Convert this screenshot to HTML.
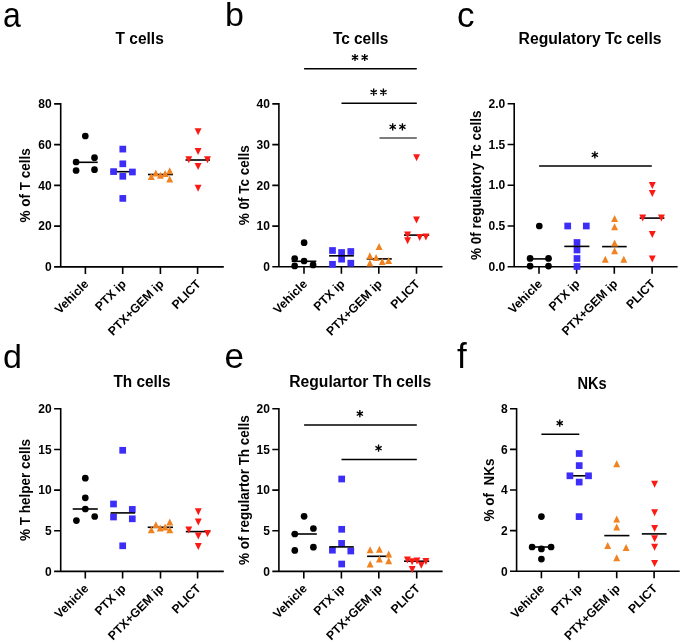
<!DOCTYPE html><html><head><meta charset="utf-8"><title>Figure</title><style>html,body{margin:0;padding:0;background:#fff;overflow:hidden}svg{display:block;filter:blur(0.4px)}text{font-family:"Liberation Sans",sans-serif}</style></head><body>
<svg width="685" height="644" viewBox="0 0 685 644">
<rect width="685" height="644" fill="#fff"/>
<g><path d="M54.1 103.9H60.7V266.9H223.8M54.1 266.9H60.7M54.1 226.15H60.7M54.1 185.4H60.7M54.1 144.65H60.7M85.4 266.9V273.9M122.7 266.9V273.9M160.4 266.9V273.9M197.6 266.9V273.9" fill="none" stroke="#000" stroke-width="1.6" stroke-linecap="butt" stroke-linejoin="miter"/><text x="51.7" y="271.1" font-size="12" font-weight="bold" text-anchor="end">0</text><text x="51.7" y="230.35" font-size="12" font-weight="bold" text-anchor="end">20</text><text x="51.7" y="189.6" font-size="12" font-weight="bold" text-anchor="end">40</text><text x="51.7" y="148.85" font-size="12" font-weight="bold" text-anchor="end">60</text><text x="51.7" y="108.1" font-size="12" font-weight="bold" text-anchor="end">80</text><text transform="translate(29.7 185.4) rotate(-90) scale(1 1.085)" font-size="13.5" font-weight="bold" text-anchor="middle" xml:space="preserve">% of T cells</text><text transform="translate(89.4 284.8) rotate(-45)" font-size="12.2" font-weight="bold" text-anchor="end">Vehicle</text><text transform="translate(126.7 284.8) rotate(-45)" font-size="12.2" font-weight="bold" text-anchor="end">PTX ip</text><text transform="translate(164.4 284.8) rotate(-45)" font-size="12.2" font-weight="bold" text-anchor="end">PTX+GEM ip</text><text transform="translate(201.6 284.8) rotate(-45)" font-size="12.2" font-weight="bold" text-anchor="end">PLICT</text><text x="115.6" y="43.8" font-size="16" font-weight="bold" textLength="48.2" lengthAdjust="spacingAndGlyphs">T cells</text><text x="2.96" y="26.6" font-size="35" textLength="17.8" lengthAdjust="spacingAndGlyphs">a</text><circle cx="85.3" cy="136" r="3.35" fill="#000"/><circle cx="94.5" cy="157.7" r="3.35" fill="#000"/><circle cx="76.1" cy="162" r="3.35" fill="#000"/><circle cx="76.1" cy="170.5" r="3.35" fill="#000"/><circle cx="94.5" cy="169.7" r="3.35" fill="#000"/><path d="M73.1 162.3H97.7" stroke="#000" stroke-width="1.6"/><path d="M110.4 171.7H135.1" stroke="#000" stroke-width="1.6"/><rect x="119.45" y="145.75" width="6.7" height="6.7" fill="#3d2df8"/><rect x="119.45" y="160.45" width="6.7" height="6.7" fill="#3d2df8"/><rect x="110.25" y="168.25" width="6.7" height="6.7" fill="#3d2df8"/><rect x="129.05" y="168.65" width="6.7" height="6.7" fill="#3d2df8"/><rect x="119.45" y="172.95" width="6.7" height="6.7" fill="#3d2df8"/><rect x="119.45" y="195.05" width="6.7" height="6.7" fill="#3d2df8"/><path d="M148 174.5H173" stroke="#000" stroke-width="1.6"/><path d="M151.3 173L154.75 180H147.85Z" fill="#f0821f"/><path d="M155.8 169.5L159.25 176.5H152.35Z" fill="#f0821f"/><path d="M160.4 171.8L163.85 178.8H156.95Z" fill="#f0821f"/><path d="M165.1 170.1L168.55 177.1H161.65Z" fill="#f0821f"/><path d="M169.7 167.3L173.15 174.3H166.25Z" fill="#f0821f"/><path d="M169.7 175.5L173.15 182.5H166.25Z" fill="#f0821f"/><path d="M185.5 160H210" stroke="#000" stroke-width="1.6"/><path d="M198.1 135.3L201.55 128.3H194.65Z" fill="#fc1a14"/><path d="M198.1 155.1L201.55 148.1H194.65Z" fill="#fc1a14"/><path d="M188.8 163.2L192.25 156.2H185.35Z" fill="#fc1a14"/><path d="M207.5 163.2L210.95 156.2H204.05Z" fill="#fc1a14"/><path d="M198.1 170.1L201.55 163.1H194.65Z" fill="#fc1a14"/><path d="M198.1 191.8L201.55 184.8H194.65Z" fill="#fc1a14"/></g>
<g><path d="M272.3 103.9H278.9V266.8H442.5M272.3 266.8H278.9M272.3 226.08H278.9M272.3 185.35H278.9M272.3 144.62H278.9M304 266.8V273.8M341.4 266.8V273.8M378.8 266.8V273.8M416.5 266.8V273.8" fill="none" stroke="#000" stroke-width="1.6" stroke-linecap="butt" stroke-linejoin="miter"/><text x="269.9" y="271" font-size="12" font-weight="bold" text-anchor="end">0</text><text x="269.9" y="230.28" font-size="12" font-weight="bold" text-anchor="end">10</text><text x="269.9" y="189.55" font-size="12" font-weight="bold" text-anchor="end">20</text><text x="269.9" y="148.82" font-size="12" font-weight="bold" text-anchor="end">30</text><text x="269.9" y="108.1" font-size="12" font-weight="bold" text-anchor="end">40</text><text transform="translate(248.6 185.35) rotate(-90) scale(1 1.085)" font-size="13.5" font-weight="bold" text-anchor="middle" xml:space="preserve">% 0f Tc cells</text><text transform="translate(308 284.7) rotate(-45)" font-size="12.2" font-weight="bold" text-anchor="end">Vehicle</text><text transform="translate(345.4 284.7) rotate(-45)" font-size="12.2" font-weight="bold" text-anchor="end">PTX ip</text><text transform="translate(382.8 284.7) rotate(-45)" font-size="12.2" font-weight="bold" text-anchor="end">PTX+GEM ip</text><text transform="translate(420.5 284.7) rotate(-45)" font-size="12.2" font-weight="bold" text-anchor="end">PLICT</text><text x="332.9" y="44.1" font-size="16" font-weight="bold" textLength="55.4" lengthAdjust="spacingAndGlyphs">Tc cells</text><text x="225" y="26.1" font-size="34">b</text><circle cx="304.1" cy="242.7" r="3.35" fill="#000"/><circle cx="294.7" cy="258.5" r="3.35" fill="#000"/><circle cx="304.1" cy="261" r="3.35" fill="#000"/><circle cx="294.7" cy="265.9" r="3.35" fill="#000"/><circle cx="313.1" cy="264.9" r="3.35" fill="#000"/><path d="M291.7 261.3H316.3" stroke="#000" stroke-width="1.6"/><rect x="329.15" y="247.15" width="6.7" height="6.7" fill="#3d2df8"/><rect x="338.25" y="249.15" width="6.7" height="6.7" fill="#3d2df8"/><rect x="338.25" y="255.85" width="6.7" height="6.7" fill="#3d2df8"/><rect x="347.45" y="248.15" width="6.7" height="6.7" fill="#3d2df8"/><rect x="329.15" y="260.95" width="6.7" height="6.7" fill="#3d2df8"/><rect x="347.45" y="259.85" width="6.7" height="6.7" fill="#3d2df8"/><path d="M329.1 255.8H353.9" stroke="#000" stroke-width="1.6"/><path d="M366.7 258.9H391.8" stroke="#000" stroke-width="1.6"/><path d="M379.1 242.9L382.55 249.9H375.65Z" fill="#f0821f"/><path d="M369.9 252.2L373.35 259.2H366.45Z" fill="#f0821f"/><path d="M376.1 254L379.55 261H372.65Z" fill="#f0821f"/><path d="M369.9 259.4L373.35 266.4H366.45Z" fill="#f0821f"/><path d="M382.2 258.1L385.65 265.1H378.75Z" fill="#f0821f"/><path d="M388.6 257L392.05 264H385.15Z" fill="#f0821f"/><path d="M404 235.1H429.2" stroke="#000" stroke-width="1.6"/><path d="M416.6 161.3L420.05 154.3H413.15Z" fill="#fc1a14"/><path d="M416.5 223.4L419.95 216.4H413.05Z" fill="#fc1a14"/><path d="M407.6 238.4L411.05 231.4H404.15Z" fill="#fc1a14"/><path d="M407.6 244.3L411.05 237.3H404.15Z" fill="#fc1a14"/><path d="M419.7 241.1L423.15 234.1H416.25Z" fill="#fc1a14"/><path d="M425.9 240.6L429.35 233.6H422.45Z" fill="#fc1a14"/><path d="M304.1 68.7H416.8" stroke="#000" stroke-width="1.5"/><path d="M355 53.9L355 61.1M351.88 55.7L358.12 59.3M358.12 55.7L351.88 59.3M364.7 53.9L364.7 61.1M361.58 55.7L367.82 59.3M367.82 55.7L361.58 59.3" stroke="#000" stroke-width="1.35" stroke-linecap="butt"/><path d="M341.5 103.3H416.8" stroke="#000" stroke-width="1.5"/><path d="M373.7 88.5L373.7 95.7M370.58 90.3L376.82 93.9M376.82 90.3L370.58 93.9M383.4 88.5L383.4 95.7M380.28 90.3L386.52 93.9M386.52 90.3L380.28 93.9" stroke="#000" stroke-width="1.35" stroke-linecap="butt"/><path d="M379.5 138H416.8" stroke="#505050" stroke-width="1.5"/><path d="M392.7 123.2L392.7 130.4M389.58 125L395.82 128.6M395.82 125L389.58 128.6M402.4 123.2L402.4 130.4M399.28 125L405.52 128.6M405.52 125L399.28 128.6" stroke="#000" stroke-width="1.35" stroke-linecap="butt"/></g>
<g><path d="M507.6 103.8H514.2V266.7H677.6M507.6 266.7H514.2M507.6 225.97H514.2M507.6 185.25H514.2M507.6 144.53H514.2M539 266.7V273.7M576.6 266.7V273.7M614.3 266.7V273.7M652.1 266.7V273.7" fill="none" stroke="#000" stroke-width="1.6" stroke-linecap="butt" stroke-linejoin="miter"/><text x="505.2" y="270.9" font-size="12" font-weight="bold" text-anchor="end">0.0</text><text x="505.2" y="230.17" font-size="12" font-weight="bold" text-anchor="end">0.5</text><text x="505.2" y="189.45" font-size="12" font-weight="bold" text-anchor="end">1.0</text><text x="505.2" y="148.72" font-size="12" font-weight="bold" text-anchor="end">1.5</text><text x="505.2" y="108" font-size="12" font-weight="bold" text-anchor="end">2.0</text><text transform="translate(480.5 185.25) rotate(-90) scale(1 1.085)" font-size="13.5" font-weight="bold" text-anchor="middle" xml:space="preserve">% 0f regulatory Tc cells</text><text transform="translate(543 284.6) rotate(-45)" font-size="12.2" font-weight="bold" text-anchor="end">Vehicle</text><text transform="translate(580.6 284.6) rotate(-45)" font-size="12.2" font-weight="bold" text-anchor="end">PTX ip</text><text transform="translate(618.3 284.6) rotate(-45)" font-size="12.2" font-weight="bold" text-anchor="end">PTX+GEM ip</text><text transform="translate(656.1 284.6) rotate(-45)" font-size="12.2" font-weight="bold" text-anchor="end">PLICT</text><text x="518.6" y="43.7" font-size="16" font-weight="bold" textLength="142.9" lengthAdjust="spacingAndGlyphs">Regulatory Tc cells</text><text x="457" y="26.8" font-size="35">c</text><circle cx="539.3" cy="226" r="3.35" fill="#000"/><circle cx="530.1" cy="258.4" r="3.35" fill="#000"/><circle cx="548.5" cy="258.4" r="3.35" fill="#000"/><circle cx="530.1" cy="266.1" r="3.35" fill="#000"/><circle cx="548.5" cy="266.1" r="3.35" fill="#000"/><path d="M527 258.9H551.5" stroke="#000" stroke-width="1.6"/><rect x="564.35" y="222.65" width="6.7" height="6.7" fill="#3d2df8"/><rect x="582.95" y="222.65" width="6.7" height="6.7" fill="#3d2df8"/><rect x="573.65" y="239.15" width="6.7" height="6.7" fill="#3d2df8"/><rect x="573.65" y="246.65" width="6.7" height="6.7" fill="#3d2df8"/><rect x="573.65" y="255.15" width="6.7" height="6.7" fill="#3d2df8"/><rect x="573.65" y="263.15" width="6.7" height="6.7" fill="#3d2df8"/><path d="M564.3 246.4H589.4" stroke="#000" stroke-width="1.6"/><path d="M602.1 246.6H626.7" stroke="#000" stroke-width="1.6"/><path d="M614.6 215.1L618.05 222.1H611.15Z" fill="#f0821f"/><path d="M614.6 223.2L618.05 230.2H611.15Z" fill="#f0821f"/><path d="M614.6 239.4L618.05 246.4H611.15Z" fill="#f0821f"/><path d="M614.6 247.2L618.05 254.2H611.15Z" fill="#f0821f"/><path d="M605.3 255.7L608.75 262.7H601.85Z" fill="#f0821f"/><path d="M623.8 255.7L627.25 262.7H620.35Z" fill="#f0821f"/><path d="M639.7 218.1H664.4" stroke="#000" stroke-width="1.6"/><path d="M652.3 189.1L655.75 182.1H648.85Z" fill="#fc1a14"/><path d="M652.3 197.1L655.75 190.1H648.85Z" fill="#fc1a14"/><path d="M642.7 221.6L646.15 214.6H639.25Z" fill="#fc1a14"/><path d="M661.4 221.6L664.85 214.6H657.95Z" fill="#fc1a14"/><path d="M652.3 237.9L655.75 230.9H648.85Z" fill="#fc1a14"/><path d="M652.3 262.5L655.75 255.5H648.85Z" fill="#fc1a14"/><path d="M539.1 166H651.8" stroke="#000" stroke-width="1.5"/><path d="M594.85 151.2L594.85 158.4M591.73 153L597.97 156.6M597.97 153L591.73 156.6" stroke="#000" stroke-width="1.35" stroke-linecap="butt"/></g>
<g><path d="M54.1 408.8H60.7V571.4H223.8M54.1 571.4H60.7M54.1 530.75H60.7M54.1 490.1H60.7M54.1 449.45H60.7M85.3 571.4V578.4M122.6 571.4V578.4M160.5 571.4V578.4M197.6 571.4V578.4" fill="none" stroke="#000" stroke-width="1.6" stroke-linecap="butt" stroke-linejoin="miter"/><text x="51.7" y="575.6" font-size="12" font-weight="bold" text-anchor="end">0</text><text x="51.7" y="534.95" font-size="12" font-weight="bold" text-anchor="end">5</text><text x="51.7" y="494.3" font-size="12" font-weight="bold" text-anchor="end">10</text><text x="51.7" y="453.65" font-size="12" font-weight="bold" text-anchor="end">15</text><text x="51.7" y="413" font-size="12" font-weight="bold" text-anchor="end">20</text><text transform="translate(29.7 490.1) rotate(-90) scale(1 1.085)" font-size="13.5" font-weight="bold" text-anchor="middle" xml:space="preserve">% T helper cells</text><text transform="translate(89.3 589.3) rotate(-45)" font-size="12.2" font-weight="bold" text-anchor="end">Vehicle</text><text transform="translate(126.6 589.3) rotate(-45)" font-size="12.2" font-weight="bold" text-anchor="end">PTX ip</text><text transform="translate(164.5 589.3) rotate(-45)" font-size="12.2" font-weight="bold" text-anchor="end">PTX+GEM ip</text><text transform="translate(201.6 589.3) rotate(-45)" font-size="12.2" font-weight="bold" text-anchor="end">PLICT</text><text x="113.4" y="387" font-size="16" font-weight="bold" textLength="57.2" lengthAdjust="spacingAndGlyphs">Th cells</text><text x="3" y="367.8" font-size="34">d</text><circle cx="85.3" cy="478.2" r="3.35" fill="#000"/><circle cx="85.3" cy="497.8" r="3.35" fill="#000"/><circle cx="85.3" cy="509" r="3.35" fill="#000"/><circle cx="76.4" cy="520.6" r="3.35" fill="#000"/><circle cx="94.7" cy="516.5" r="3.35" fill="#000"/><path d="M72.7 509H97.8" stroke="#000" stroke-width="1.6"/><rect x="119.35" y="446.95" width="6.7" height="6.7" fill="#3d2df8"/><rect x="110.15" y="500.65" width="6.7" height="6.7" fill="#3d2df8"/><rect x="110.15" y="513.65" width="6.7" height="6.7" fill="#3d2df8"/><rect x="128.95" y="506.05" width="6.7" height="6.7" fill="#3d2df8"/><rect x="128.95" y="515.45" width="6.7" height="6.7" fill="#3d2df8"/><rect x="119.35" y="542.45" width="6.7" height="6.7" fill="#3d2df8"/><path d="M110.6 512.9H135.1" stroke="#000" stroke-width="1.6"/><path d="M147.7 527.3H173" stroke="#000" stroke-width="1.6"/><path d="M151.3 526.2L154.75 533.2H147.85Z" fill="#f0821f"/><path d="M155.9 521.3L159.35 528.3H152.45Z" fill="#f0821f"/><path d="M160.2 524.5L163.65 531.5H156.75Z" fill="#f0821f"/><path d="M165.1 523.5L168.55 530.5H161.65Z" fill="#f0821f"/><path d="M169.8 518.6L173.25 525.6H166.35Z" fill="#f0821f"/><path d="M169.8 526.2L173.25 533.2H166.35Z" fill="#f0821f"/><path d="M185.8 531.6H210.3" stroke="#000" stroke-width="1.6"/><path d="M198.3 515.3L201.75 508.3H194.85Z" fill="#fc1a14"/><path d="M198.3 525.6L201.75 518.6H194.85Z" fill="#fc1a14"/><path d="M188.8 533.4L192.25 526.4H185.35Z" fill="#fc1a14"/><path d="M207.5 537L210.95 530H204.05Z" fill="#fc1a14"/><path d="M198.3 539.5L201.75 532.5H194.85Z" fill="#fc1a14"/><path d="M198.3 550.1L201.75 543.1H194.85Z" fill="#fc1a14"/></g>
<g><path d="M272.3 408.8H278.9V571.4H442.6M272.3 571.4H278.9M272.3 530.75H278.9M272.3 490.1H278.9M272.3 449.45H278.9M303.8 571.4V578.4M341.4 571.4V578.4M378.8 571.4V578.4M416.7 571.4V578.4" fill="none" stroke="#000" stroke-width="1.6" stroke-linecap="butt" stroke-linejoin="miter"/><text x="269.9" y="575.6" font-size="12" font-weight="bold" text-anchor="end">0</text><text x="269.9" y="534.95" font-size="12" font-weight="bold" text-anchor="end">5</text><text x="269.9" y="494.3" font-size="12" font-weight="bold" text-anchor="end">10</text><text x="269.9" y="453.65" font-size="12" font-weight="bold" text-anchor="end">15</text><text x="269.9" y="413" font-size="12" font-weight="bold" text-anchor="end">20</text><text transform="translate(249.3 490.1) rotate(-90) scale(1 1.085)" font-size="13.5" font-weight="bold" text-anchor="middle" xml:space="preserve">% of regulartor Th cells</text><text transform="translate(307.8 589.3) rotate(-45)" font-size="12.2" font-weight="bold" text-anchor="end">Vehicle</text><text transform="translate(345.4 589.3) rotate(-45)" font-size="12.2" font-weight="bold" text-anchor="end">PTX ip</text><text transform="translate(382.8 589.3) rotate(-45)" font-size="12.2" font-weight="bold" text-anchor="end">PTX+GEM ip</text><text transform="translate(420.7 589.3) rotate(-45)" font-size="12.2" font-weight="bold" text-anchor="end">PLICT</text><text x="289.2" y="386.6" font-size="16" font-weight="bold" textLength="142" lengthAdjust="spacingAndGlyphs">Regulartor Th cells</text><text x="224.5" y="367.5" font-size="35">e</text><circle cx="304.1" cy="516.3" r="3.35" fill="#000"/><circle cx="313.4" cy="528.5" r="3.35" fill="#000"/><circle cx="294.8" cy="534" r="3.35" fill="#000"/><circle cx="294.8" cy="550.4" r="3.35" fill="#000"/><circle cx="313.4" cy="547.2" r="3.35" fill="#000"/><path d="M291.6 534H316.8" stroke="#000" stroke-width="1.6"/><rect x="338.35" y="475.65" width="6.7" height="6.7" fill="#3d2df8"/><rect x="338.35" y="525.95" width="6.7" height="6.7" fill="#3d2df8"/><rect x="338.25" y="540.05" width="6.7" height="6.7" fill="#3d2df8"/><rect x="329.05" y="546.85" width="6.7" height="6.7" fill="#3d2df8"/><rect x="347.45" y="547.65" width="6.7" height="6.7" fill="#3d2df8"/><rect x="338.35" y="560.65" width="6.7" height="6.7" fill="#3d2df8"/><path d="M329.3 546.9H353.8" stroke="#000" stroke-width="1.6"/><path d="M367.1 556.3H391" stroke="#000" stroke-width="1.6"/><path d="M370.1 546.2L373.55 553.2H366.65Z" fill="#f0821f"/><path d="M379.4 545.7L382.85 552.7H375.95Z" fill="#f0821f"/><path d="M388.7 550.4L392.15 557.4H385.25Z" fill="#f0821f"/><path d="M379.4 555.5L382.85 562.5H375.95Z" fill="#f0821f"/><path d="M388.7 557.2L392.15 564.2H385.25Z" fill="#f0821f"/><path d="M370.1 560.4L373.55 567.4H366.65Z" fill="#f0821f"/><path d="M404 561.2H429.2" stroke="#000" stroke-width="1.6"/><path d="M407.4 563.4L410.85 556.4H403.95Z" fill="#fc1a14"/><path d="M412.1 565.3L415.55 558.3H408.65Z" fill="#fc1a14"/><path d="M417 564.4L420.45 557.4H413.55Z" fill="#fc1a14"/><path d="M425.9 564.9L429.35 557.9H422.45Z" fill="#fc1a14"/><path d="M421.3 568.8L424.75 561.8H417.85Z" fill="#fc1a14"/><path d="M412.2 572.9L415.65 565.9H408.75Z" fill="#fc1a14"/><path d="M304.1 424.9H416.8" stroke="#000" stroke-width="1.5"/><path d="M359.85 410.1L359.85 417.3M356.73 411.9L362.97 415.5M362.97 411.9L356.73 415.5" stroke="#000" stroke-width="1.35" stroke-linecap="butt"/><path d="M341.5 459.4H416.8" stroke="#000" stroke-width="1.5"/><path d="M378.55 444.6L378.55 451.8M375.43 446.4L381.67 450M381.67 446.4L375.43 450" stroke="#000" stroke-width="1.35" stroke-linecap="butt"/></g>
<g><path d="M510 408.7H516.6V571.3H679.7M510 571.3H516.6M510 530.65H516.6M510 490H516.6M510 449.35H516.6M541.4 571.3V578.3M578.7 571.3V578.3M616.7 571.3V578.3M654.1 571.3V578.3" fill="none" stroke="#000" stroke-width="1.6" stroke-linecap="butt" stroke-linejoin="miter"/><text x="507.6" y="575.5" font-size="12" font-weight="bold" text-anchor="end">0</text><text x="507.6" y="534.85" font-size="12" font-weight="bold" text-anchor="end">2</text><text x="507.6" y="494.2" font-size="12" font-weight="bold" text-anchor="end">4</text><text x="507.6" y="453.55" font-size="12" font-weight="bold" text-anchor="end">6</text><text x="507.6" y="412.9" font-size="12" font-weight="bold" text-anchor="end">8</text><text transform="translate(493.7 490) rotate(-90) scale(1 1.085)" font-size="13.5" font-weight="bold" text-anchor="middle" xml:space="preserve">% of  NKs</text><text transform="translate(545.4 589.2) rotate(-45)" font-size="12.2" font-weight="bold" text-anchor="end">Vehicle</text><text transform="translate(582.7 589.2) rotate(-45)" font-size="12.2" font-weight="bold" text-anchor="end">PTX ip</text><text transform="translate(620.7 589.2) rotate(-45)" font-size="12.2" font-weight="bold" text-anchor="end">PTX+GEM ip</text><text transform="translate(658.1 589.2) rotate(-45)" font-size="12.2" font-weight="bold" text-anchor="end">PLICT</text><text x="577.4" y="388.7" font-size="16" font-weight="bold" textLength="29.2" lengthAdjust="spacingAndGlyphs">NKs</text><text x="456.9" y="368.4" font-size="35">f</text><circle cx="541.4" cy="516.6" r="3.35" fill="#000"/><circle cx="532.1" cy="547" r="3.35" fill="#000"/><circle cx="551.1" cy="547" r="3.35" fill="#000"/><circle cx="541.4" cy="548.9" r="3.35" fill="#000"/><circle cx="541.4" cy="559.1" r="3.35" fill="#000"/><path d="M529 547H553.8" stroke="#000" stroke-width="1.6"/><path d="M567 475.8H591.3" stroke="#000" stroke-width="1.6"/><rect x="575.85" y="450.15" width="6.7" height="6.7" fill="#3d2df8"/><rect x="575.85" y="462.25" width="6.7" height="6.7" fill="#3d2df8"/><rect x="566.55" y="472.45" width="6.7" height="6.7" fill="#3d2df8"/><rect x="585.15" y="472.45" width="6.7" height="6.7" fill="#3d2df8"/><rect x="575.85" y="478.75" width="6.7" height="6.7" fill="#3d2df8"/><rect x="575.75" y="513.25" width="6.7" height="6.7" fill="#3d2df8"/><path d="M604.3 535.6H629.4" stroke="#000" stroke-width="1.6"/><path d="M616.7 460.3L620.15 467.3H613.25Z" fill="#f0821f"/><path d="M616.7 515.4L620.15 522.4H613.25Z" fill="#f0821f"/><path d="M616.7 523.6L620.15 530.6H613.25Z" fill="#f0821f"/><path d="M607.7 541.9L611.15 548.9H604.25Z" fill="#f0821f"/><path d="M626.1 544.1L629.55 551.1H622.65Z" fill="#f0821f"/><path d="M616.7 554.2L620.15 561.2H613.25Z" fill="#f0821f"/><path d="M641.8 533.9H666.6" stroke="#000" stroke-width="1.6"/><path d="M654.6 487.8L658.05 480.8H651.15Z" fill="#fc1a14"/><path d="M654.6 516.2L658.05 509.2H651.15Z" fill="#fc1a14"/><path d="M654.6 532.1L658.05 525.1H651.15Z" fill="#fc1a14"/><path d="M654.6 542.3L658.05 535.3H651.15Z" fill="#fc1a14"/><path d="M654.6 550.8L658.05 543.8H651.15Z" fill="#fc1a14"/><path d="M654.6 567.1L658.05 560.1H651.15Z" fill="#fc1a14"/><path d="M541.4 434.3H579.3" stroke="#000" stroke-width="1.5"/><path d="M559.75 419.5L559.75 426.7M556.63 421.3L562.87 424.9M562.87 421.3L556.63 424.9" stroke="#000" stroke-width="1.35" stroke-linecap="butt"/></g>
</svg></body></html>
